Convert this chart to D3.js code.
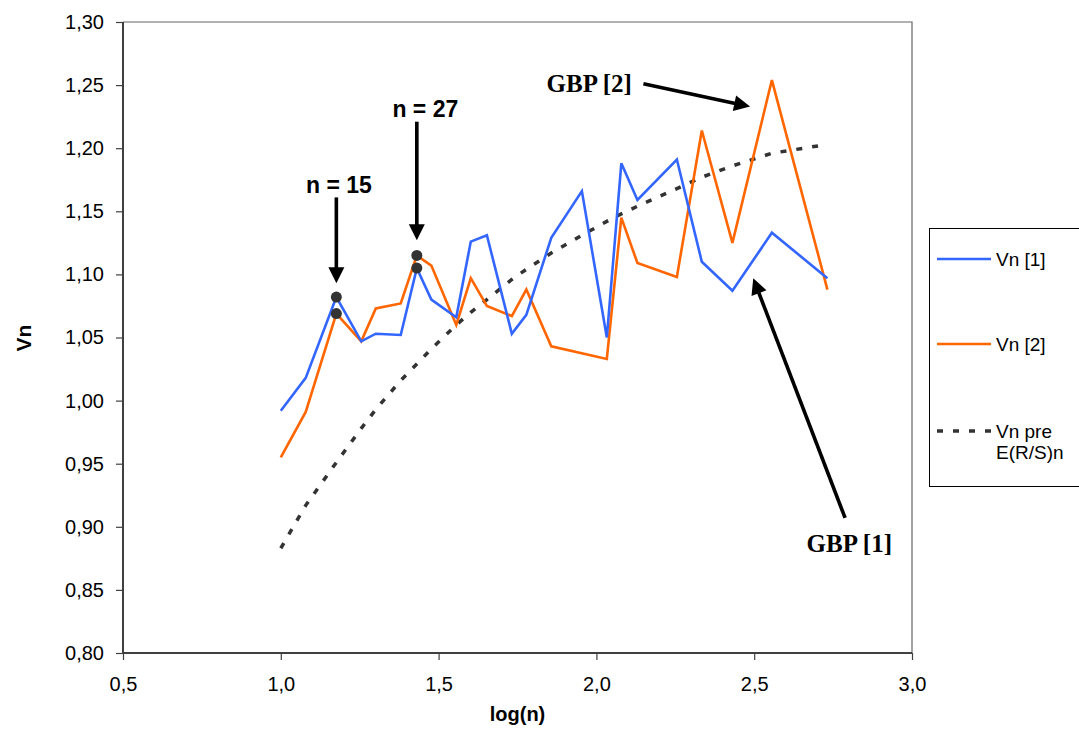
<!DOCTYPE html>
<html>
<head>
<meta charset="utf-8">
<script src="https://cdn.jsdelivr.net/npm/d3@7"></script>
<style>
    body { margin: 0; background: #fff; }
    svg { display: block; font-family: Arial, "Liberation Sans", sans-serif; }
</style>
</head>
<body>
<div id="chart"></div>
<script>
    // log(n) for the window sizes n
    const logN = [1.000, 1.079, 1.176, 1.255, 1.301, 1.380, 1.431, 1.477, 1.556, 1.602, 1.653,
                  1.732, 1.778, 1.857, 1.954, 2.033, 2.079, 2.130, 2.255, 2.334, 2.431, 2.556, 2.732];

    const vn1 = [0.992, 1.018, 1.082, 1.047, 1.053, 1.052, 1.105, 1.080, 1.066, 1.126, 1.131,
                 1.053, 1.068, 1.129, 1.166, 1.050, 1.188, 1.159, 1.191, 1.110, 1.087, 1.133, 1.097];

    // series 2 has no point at log(n) = 1.954
    const vn2 = [0.955, 0.991, 1.069, 1.047, 1.073, 1.077, 1.115, 1.107, 1.060, 1.097, 1.075,
                 1.067, 1.088, 1.043, null, 1.033, 1.145, 1.109, 1.098, 1.214, 1.125, 1.254, 1.088];

    const vnExpected = [0.883, 0.917, 0.951, 0.978, 0.993, 1.016, 1.029, 1.041, 1.060, 1.070, 1.080,
                        1.096, 1.104, 1.117, 1.131, 1.142, 1.148, 1.154, 1.168, 1.177, 1.186, 1.196, 1.203];

    const markedIdx = [2, 6]; // n = 15, n = 27

    const xTicks = [0.5, 1.0, 1.5, 2.0, 2.5, 3.0];
    const yTicks = [0.80, 0.85, 0.90, 0.95, 1.00, 1.05, 1.10, 1.15, 1.20, 1.25, 1.30];

    const seriesNames = ['Vn [1]', 'Vn [2]', ['Vn pre', 'E(R/S)n']];

    const width = 1079,
          height = 730;

    const plot = { left: 123, top: 22, right: 912, bottom: 653 };

    let svg = d3.select('#chart')
        .append('svg')
        .attr('width', width)
        .attr('height', height);

    let x = d3.scaleLinear()
        .domain([0.5, 3.0])
        .range([plot.left, plot.right]);

    let y = d3.scaleLinear()
        .domain([0.80, 1.30])
        .range([plot.bottom, plot.top]);

    const fmt = (d, digits) => d.toFixed(digits).replace('.', ',');

    // plot area frame (top + right)
    svg.append('path')
        .attr('d', `M${plot.left},${plot.top}H${plot.right}V${plot.bottom}`)
        .attr('fill', 'none')
        .attr('stroke', '#666')
        .attr('stroke-width', 1.2);

    let yAxis = svg.append('g')
        .attr('transform', `translate(${plot.left},0)`)
        .call(d3.axisLeft(y).tickValues(yTicks).tickSize(7).tickPadding(12).tickFormat(d => fmt(d, 2)));

    let xAxis = svg.append('g')
        .attr('transform', `translate(0,${plot.bottom})`)
        .call(d3.axisBottom(x).tickValues(xTicks).tickSize(7).tickPadding(17).tickFormat(d => fmt(d, 1)));

    [yAxis, xAxis].forEach(ax => {
        ax.select('.domain').attr('stroke', '#404040').attr('stroke-width', 2);
        ax.selectAll('.tick line').attr('stroke', '#404040').attr('stroke-width', 1.2);
        ax.selectAll('.tick text')
            .attr('fill', '#000')
            .style('font-size', '20px');
    });
    xAxis.select('.domain').attr('d', `M${plot.left},0H${plot.right}`);
    yAxis.select('.domain').attr('d', `M0,${plot.top}V${plot.bottom}`);

    svg.append('text')
        .attr('x', (plot.left + plot.right) / 2)
        .attr('y', 721)
        .attr('text-anchor', 'middle')
        .style('font-size', '20px')
        .style('font-weight', 'bold')
        .text('log(n)');

    svg.append('text')
        .attr('transform', 'translate(31,338) rotate(-90)')
        .attr('text-anchor', 'middle')
        .style('font-size', '21px')
        .style('font-weight', 'bold')
        .text('Vn');

    let line = d3.line()
        .x(d => x(d[0]))
        .y(d => y(d[1]));

    const pairs = (vals) => logN.map((v, i) => [v, vals[i]]).filter(d => d[1] !== null);

    svg.append('path')
        .datum(pairs(vnExpected))
        .attr('d', line)
        .attr('fill', 'none')
        .attr('stroke', '#333')
        .attr('stroke-width', 3.5)
        .attr('stroke-dasharray', '6,10');

    svg.append('path')
        .datum(pairs(vn2))
        .attr('d', line)
        .attr('fill', 'none')
        .attr('stroke', '#ff6600')
        .attr('stroke-width', 2.6)
        .attr('stroke-linejoin', 'miter');

    svg.append('path')
        .datum(pairs(vn1))
        .attr('d', line)
        .attr('fill', 'none')
        .attr('stroke', '#3366ff')
        .attr('stroke-width', 2.6);

    let marks = [];
    markedIdx.forEach(i => {
        marks.push([logN[i], vn1[i]]);
        marks.push([logN[i], vn2[i]]);
    });

    svg.selectAll('.mark')
        .data(marks)
        .enter()
        .append('circle')
        .attr('cx', d => x(d[0]))
        .attr('cy', d => y(d[1]))
        .attr('r', 5.5)
        .attr('fill', '#333')
        .classed('mark', true);

    // annotations: arrows and labels in data units
    const arrows = [
        { from: [1.176, 1.161], to: [1.176, 1.093] },
        { from: [1.431, 1.221], to: [1.431, 1.127] },
        { from: [2.149, 1.251], to: [2.487, 1.233] },
        { from: [2.788, 0.907], to: [2.497, 1.097] }
    ];

    const labels = [
        { text: 'n = 15', at: [1.184, 1.1645], anchor: 'middle', serif: false },
        { text: 'n = 27', at: [1.458, 1.2245], anchor: 'middle', serif: false },
        { text: 'GBP [2]', at: [1.842, 1.2448], anchor: 'start', serif: true },
        { text: 'GBP [1]', at: [2.666, 0.8803], anchor: 'start', serif: true }
    ];

    arrows.forEach(a => {
        const x0 = x(a.from[0]), y0 = y(a.from[1]),
              x1 = x(a.to[0]), y1 = y(a.to[1]);
        const len = Math.hypot(x1 - x0, y1 - y0),
              ux = (x1 - x0) / len, uy = (y1 - y0) / len;
        const headLen = 16, headHalf = 8;
        const bx = x1 - ux * headLen, by = y1 - uy * headLen;

        svg.append('line')
            .attr('x1', x0).attr('y1', y0)
            .attr('x2', bx + ux * 2).attr('y2', by + uy * 2)
            .attr('stroke', '#000')
            .attr('stroke-width', 3.6);

        svg.append('path')
            .attr('d', `M${x1},${y1}L${bx - uy * headHalf},${by + ux * headHalf}L${bx + uy * headHalf},${by - ux * headHalf}Z`)
            .attr('fill', '#000');
    });

    labels.forEach(l => {
        svg.append('text')
            .attr('x', x(l.at[0]))
            .attr('y', y(l.at[1]))
            .attr('text-anchor', l.anchor)
            .style('font-family', l.serif ? '"Liberation Serif", "Times New Roman", serif' : null)
            .style('font-size', l.serif ? '25px' : '23px')
            .style('font-weight', 'bold')
            .text(l.text);
    });

    // legend
    let legend = svg.append('g');

    legend.append('rect')
        .attr('x', 929.5)
        .attr('y', 228.5)
        .attr('width', 160)
        .attr('height', 258)
        .attr('fill', '#fff')
        .attr('stroke', '#000')
        .attr('stroke-width', 1);

    const legendStyles = [
        { color: '#3366ff', width: 2.6, dash: null },
        { color: '#ff6600', width: 2.6, dash: null },
        { color: '#333', width: 3.5, dash: '6,10' }
    ];
    const legendY = [259, 344, 431];

    seriesNames.forEach((name, i) => {
        legend.append('line')
            .attr('x1', 937).attr('x2', 991)
            .attr('y1', legendY[i]).attr('y2', legendY[i])
            .attr('stroke', legendStyles[i].color)
            .attr('stroke-width', legendStyles[i].width)
            .attr('stroke-dasharray', legendStyles[i].dash);

        const lines = Array.isArray(name) ? name : [name];
        let t = legend.append('text')
            .attr('x', 996)
            .attr('y', legendY[i] + 7)
            .style('font-size', '19px');
        lines.forEach((s, j) => {
            t.append('tspan')
                .attr('x', 996)
                .attr('dy', j === 0 ? 0 : 21)
                .text(s);
        });
    });
</script>
</body>
</html>
